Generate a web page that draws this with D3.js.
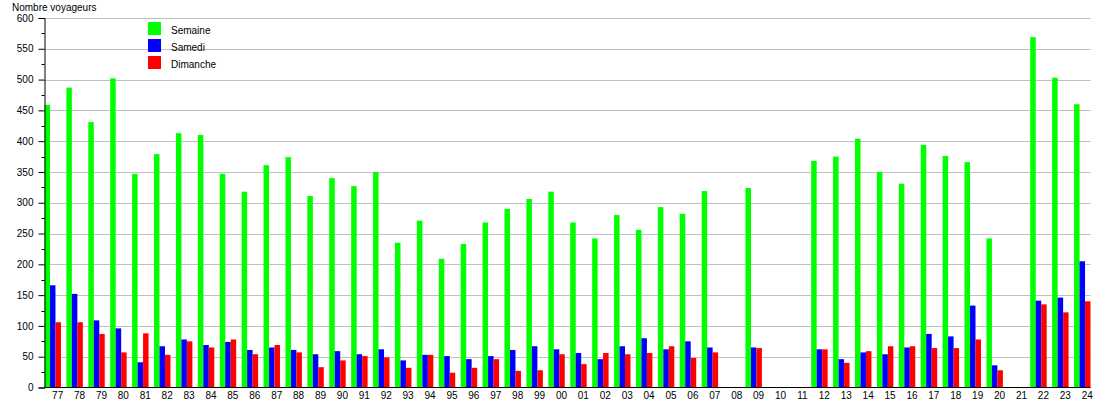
<!DOCTYPE html>
<html>
<head>
<meta charset="utf-8">
<script src="https://cdn.jsdelivr.net/npm/d3@7"></script>
<style>
  html, body { margin: 0; padding: 0; background: #fff; }
  svg { display: block; }
  text { font-family: "Liberation Sans", Arial, sans-serif; font-size: 10px; fill: #000; }
</style>
</head>
<body>
<svg id="chart" width="1110" height="400"></svg>
<script>
const categories = ["77","78","79","80","81","82","83","84","85","86","87","88","89","90","91","92","93","94","95","96","97","98","99","00","01","02","03","04","05","06","07","08","09","10","11","12","13","14","15","16","17","18","19","20","21","22","23","24"];
const semaine = [459,487,431,502,347,379,413,410,347,318,361,374,311,340,327,350,235,271,209,233,268,290,306,318,268,242,280,256,293,282,319,null,324,null,null,368,375,404,350,331,394,376,366,242,null,569,503,460];
const samedi = [166,152,109,96,41,67,78,69,74,61,65,61,54,59,54,62,44,53,51,46,51,61,67,62,56,46,67,80,62,75,65,null,65,null,null,62,46,57,54,65,87,83,133,36,null,141,146,205];
const dimanche = [106,106,87,57,88,53,75,65,78,54,69,57,33,44,51,49,32,53,24,32,46,27,28,54,38,56,54,56,67,48,57,null,64,null,null,62,40,59,67,67,64,64,78,28,null,135,122,140];
const seriesNames = ["Semaine","Samedi","Dimanche"];
const seriesColors = ["#00ff00","#0000ff","#ff0000"];
const yTicks = [0,50,100,150,200,250,300,350,400,450,500,550,600];
const yTitle = "Nombre voyageurs";

(function () {
const svg = d3.select("#chart");
const pLeft = 44.5, pRight = 1090.5, pTop = 18, pBottom = 387.5;

const x = d3.scaleBand().domain(categories).range([pLeft, pRight]).paddingInner(0.25).paddingOuter(0);
const xs = d3.scaleBand().domain(seriesNames).range([0, x.bandwidth()]);
const y = d3.scaleLinear().domain([0, 600]).range([pBottom, pTop]);

// grid lines
svg.append("g").selectAll("line").data(yTicks.filter(d => d > 0)).join("line")
  .attr("x1", pLeft).attr("x2", pRight)
  .attr("y1", d => Math.round(y(d)) + 0.5).attr("y2", d => Math.round(y(d)) + 0.5)
  .attr("stroke", "#c0c0c0").attr("stroke-width", 1);

// bars
const allSeries = [semaine, samedi, dimanche];
allSeries.forEach((vals, si) => {
  svg.append("g").selectAll("rect")
    .data(categories.map((c, i) => ({c, v: vals[i]})).filter(d => d.v != null))
    .join("rect")
    .attr("x", d => x(d.c) + xs(seriesNames[si]))
    .attr("width", xs.bandwidth())
    .attr("y", d => y(d.v))
    .attr("height", d => y(0) - y(d.v))
    .attr("fill", seriesColors[si]);
});

// y axis
const yAxis = d3.axisLeft(y).tickValues(yTicks).tickSize(6).tickPadding(5);
const gy = svg.append("g").attr("transform", `translate(${pLeft},0)`).call(yAxis);
gy.select(".domain").attr("stroke", "#000");
gy.selectAll(".tick line").attr("stroke", "#000");
gy.selectAll(".tick text").attr("font-size", 10).attr("font-family", "Liberation Sans, Arial, sans-serif").attr("fill", "#000");
// minor ticks
const minor = d3.range(25, 600, 50);
svg.append("g").selectAll("line").data(minor).join("line")
  .attr("x1", pLeft - 3).attr("x2", pLeft)
  .attr("y1", d => Math.round(y(d)) + 0.5).attr("y2", d => Math.round(y(d)) + 0.5)
  .attr("stroke", "#000");

// x axis
svg.append("line").attr("x1", pLeft).attr("x2", pRight)
  .attr("y1", pBottom).attr("y2", pBottom).attr("stroke", "#000");
svg.append("g").selectAll("text").data(categories).join("text")
  .attr("x", d => x(d) + x.step() * 0.6)
  .attr("y", 399)
  .attr("text-anchor", "middle")
  .text(d => d);

// y title
svg.append("text").attr("x", 12).attr("y", 11).text(yTitle);

// legend
const lg = svg.append("g");
seriesNames.forEach((n, i) => {
  lg.append("rect").attr("x", 148).attr("y", 22 + i * 17).attr("width", 13).attr("height", 13).attr("fill", seriesColors[i]);
  lg.append("text").attr("x", 171).attr("y", 34 + i * 17).text(n);
});
})();
</script>
</body>
</html>
